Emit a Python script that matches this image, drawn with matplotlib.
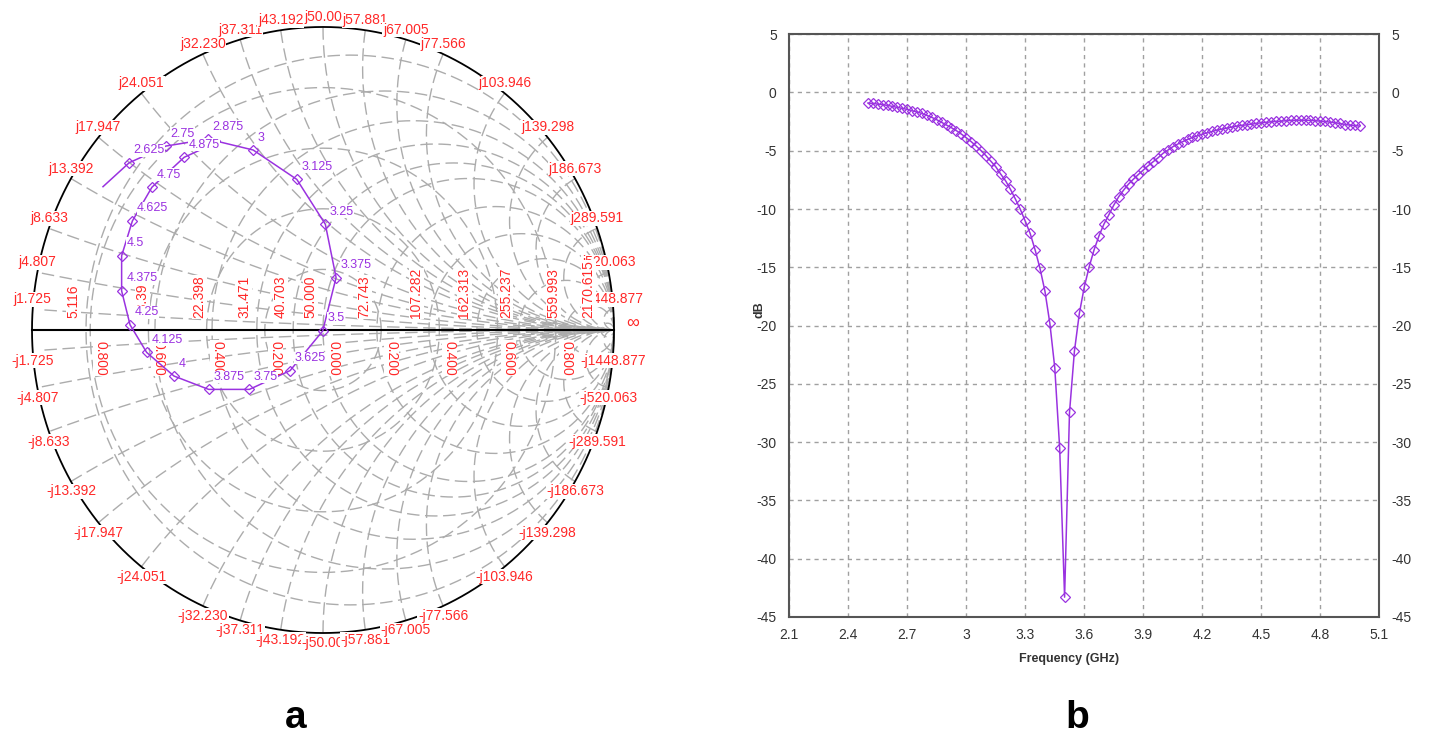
import numpy as np
import matplotlib.pyplot as plt

plt.rcParams['font.family'] = ['Liberation Sans', 'DejaVu Sans']
plt.rcParams['axes.unicode_minus'] = False

z0 = 50.0

# Smith chart grid (ohm)
res_values = [5.116, 13.392, 22.398, 31.471, 40.703, 50.000, 72.743, 107.282,
              162.313, 255.237, 559.993, 2170.615]
res_labels = ['5.116', '13.392', '22.398', '31.471', '40.703', '50.000', '72.743',
              '107.282', '162.313', '255.237', '559.993', '2170.615']
react_values = [1.725, 4.807, 8.633, 13.392, 17.947, 24.051, 32.230, 37.311, 43.192,
                50.0, 57.881, 67.005, 77.566, 103.946, 139.298, 186.673, 289.591,
                520.063, 1448.877]
react_labels = ['1.725', '4.807', '8.633', '13.392', '17.947', '24.051', '32.230',
                '37.311', '43.192', '50.00', '57.881', '67.005', '77.566', '103.946',
                '139.298', '186.673', '289.591', '520.063', '1448.877']
gamma_ticks = [-0.8, -0.6, -0.4, -0.2, 0.0, 0.2, 0.4, 0.6, 0.8]
gamma_labels = ['0.800', '0.600', '0.400', '0.200', '0.000', '0.200', '0.400',
                '0.600', '0.800']

# S11 trace on the Smith chart (GHz, reflection coefficient)
smith_freq = ['2.5', '2.625', '2.75', '2.875', '3', '3.125', '3.25', '3.375', '3.5',
              '3.625', '3.75', '3.875', '4', '4.125', '4.25', '4.375', '4.5', '4.625',
              '4.75', '4.875', '5']
smith_re = [-0.756, -0.666, -0.540, -0.395, -0.240, -0.090, 0.008, 0.045, -0.001,
            -0.113, -0.253, -0.393, -0.512, -0.606, -0.663, -0.692, -0.692, -0.655,
            -0.588, -0.477, -0.354]
smith_im = [0.473, 0.552, 0.607, 0.630, 0.594, 0.497, 0.349, 0.173, -0.003,
            -0.134, -0.196, -0.196, -0.152, -0.074, 0.017, 0.129, 0.245, 0.360,
            0.471, 0.570, 0.624]

# S11 magnitude, 2.5 - 5 GHz in 25 MHz steps
freq = np.round(np.arange(2.5, 5.0001, 0.025), 3)
s11_db = [-0.91, -0.94, -1.00, -1.05, -1.11, -1.20, -1.28, -1.37, -1.45, -1.57,
          -1.68, -1.80, -1.97, -2.14, -2.34, -2.57, -2.80, -3.03, -3.28, -3.57,
          -3.88, -4.22, -4.59, -4.99, -5.42, -5.90, -6.37, -7.00,
          -7.58, -8.32, -9.15, -10.03, -11.04, -12.10, -13.50, -15.10, -17.04,
          -19.80, -23.60, -30.50, -43.30, -27.45, -22.20,
          -18.96, -16.70, -14.96, -13.50, -12.30, -11.30, -10.50, -9.67, -8.95,
          -8.38, -7.86, -7.44, -7.04, -6.66,
          -6.29, -5.95, -5.61, -5.23, -4.95, -4.66, -4.43, -4.23, -4.03, -3.86,
          -3.72, -3.58, -3.46, -3.35, -3.23, -3.15, -3.06, -2.97, -2.89, -2.83,
          -2.78, -2.72, -2.66, -2.60, -2.57, -2.52, -2.49, -2.46, -2.43, -2.40,
          -2.38, -2.38, -2.38, -2.40, -2.43, -2.46, -2.49, -2.55, -2.60, -2.66,
          -2.75, -2.80, -2.83, -2.89]

purple = '#9a32e0'
red = '#ff2828'

fig = plt.figure(figsize=(14.29, 7.38), dpi=100)

# ---------------- Smith chart ----------------
ax = fig.add_axes([0.00203, 0.1012, 0.448, 0.9033])
ax.set_xlim(-1.1, 1.1)
ax.set_ylim(-1.1, 1.1)
ax.axis('off')

grid_kw = dict(color='#acacac', lw=1.0, ls=(0, (9, 4)), zorder=1)
t = np.linspace(0, 2 * np.pi, 721)
for R in res_values:
    r = R / z0
    c, rad = r / (1 + r), 1 / (1 + r)
    ax.plot(c + rad * np.cos(t), rad * np.sin(t), **grid_kw)

ta = np.linspace(np.pi / 2, 3 * np.pi / 2, 2000)
for X in react_values:
    x = X / z0
    u = 1 + np.cos(ta) / x
    for s in (1, -1):
        v = s * (1 + np.sin(ta)) / x
        inside = u ** 2 + v ** 2 <= 1.0
        ax.plot(u[inside], v[inside], **grid_kw)

for g in [0.2, 0.4, 0.6, 0.8]:
    ax.plot(g * np.cos(t), g * np.sin(t), **grid_kw)

ax.plot(np.cos(t), np.sin(t), color='black', lw=1.3, zorder=2)
ax.plot([-1, 1], [0, 0], color='black', lw=1.5, zorder=2)

lab_kw = dict(color=red, fontsize=10, zorder=3,
              bbox=dict(fc='white', ec='none', pad=0.4))
for X, lab in zip(react_values, react_labels):
    th = np.pi - 2 * np.arctan(X / z0)
    for s, pre in ((1, 'j'), (-1, '-j')):
        ax.text(np.cos(th), s * (np.sin(th) + 0.033), pre + lab,
                ha='center', va='center', **lab_kw)

for R, lab in zip(res_values, res_labels):
    g = (R - z0) / (R + z0)
    ax.text(g - 0.02, 0.038, lab, rotation=90, ha='right', va='bottom', **lab_kw)

for g, lab in zip(gamma_ticks, gamma_labels):
    ax.text(g + 0.012, -0.035, lab, rotation=270, ha='left', va='top', **lab_kw)

ax.text(1.065, 0.023, '\u221e', ha='center', va='center', color=red, fontsize=13)

ax.plot(smith_re, smith_im, color=purple, lw=1.1, zorder=4)
ax.plot(smith_re[1:-1], smith_im[1:-1], ls='none', marker='D', ms=4.8,
        mfc='none', mec=purple, mew=0.9, zorder=4)
for re, im, lab in zip(smith_re[1:-1], smith_im[1:-1], smith_freq[1:-1]):
    ax.annotate(lab, (re, im), xytext=(3.3, 9), textcoords='offset points',
                ha='left', va='center', color=purple, fontsize=9, zorder=5,
                bbox=dict(fc='white', ec='none', pad=0.3))

# ---------------- S11 magnitude ----------------
ax2 = fig.add_axes([0.5523, 0.1640, 0.4129, 0.7897])
ax2.plot(freq, s11_db, color=purple, lw=1.1, marker='D', ms=4.8, mfc='none',
         mew=0.9)
ax2.set_xlim(2.1, 5.1)
ax2.set_ylim(-45, 5)
xt = [2.1, 2.4, 2.7, 3.0, 3.3, 3.6, 3.9, 4.2, 4.5, 4.8, 5.1]
ax2.set_xticks(xt)
ax2.set_xticklabels(['2.1', '2.4', '2.7', '3', '3.3', '3.6', '3.9', '4.2', '4.5',
                     '4.8', '5.1'])
ax2.set_yticks(range(-45, 6, 5))
ax2.grid(True, ls=(0, (3, 3)), color='#a0a0a0', lw=1)
ax2.tick_params(axis='both', length=0, labelsize=10, labelcolor='#333333')
ax2.tick_params(axis='y', pad=9, labelright=True)
ax2.tick_params(axis='x', pad=8)
for sp in ax2.spines.values():
    sp.set_color('#555555')
    sp.set_linewidth(1.5)
ax2.set_xlabel('Frequency (GHz)', fontsize=9, fontweight='bold', color='#333333')
ax2.set_ylabel('dB', fontsize=9, fontweight='bold', color='#333333')
ax2.xaxis.set_label_coords(0.474, -0.062)
ax2.yaxis.set_label_coords(-0.040, 0.527)

fig.text(296 / 1429, 1 - 718 / 738, 'a', ha='center', va='center', fontsize=28,
         fontweight='bold')
fig.text(1077 / 1429, 1 - 718 / 738, 'b', ha='center', va='center', fontsize=28,
         fontweight='bold')

fig.savefig('out.png', dpi=100)
